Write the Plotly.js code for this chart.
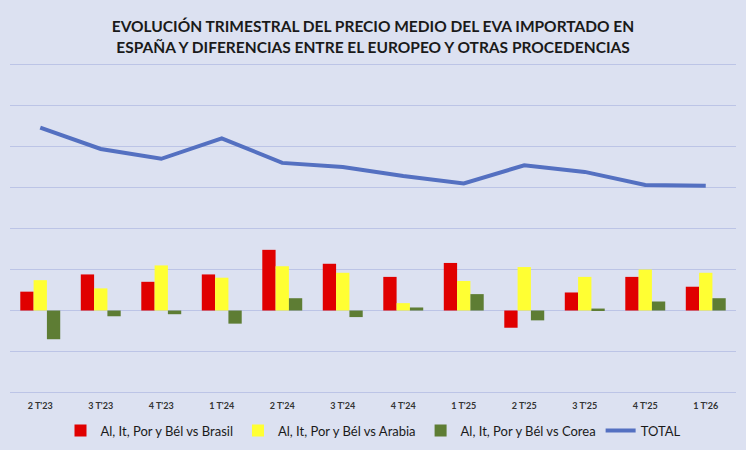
<!DOCTYPE html>
<html>
<head>
<meta charset="utf-8">
<script src="https://cdn.plot.ly/plotly-3.0.1.min.js"></script>
<style>
  html, body { margin: 0; padding: 0; background: #dce1f1; }
  #grafik { width: 746px; height: 450px; }
</style>
</head>
<body>
<div id="grafik"></div>
<script>
// Trimestres
const trimestres = ["2 T'23", "3 T'23", "4 T'23", "1 T'24", "2 T'24", "3 T'24",
                    "4 T'24", "1 T'25", "2 T'25", "3 T'25", "4 T'25", "1 T'26"];

// Diferencias de precio (€/kg, estimado de la imagen)
const vsBrasil = [0.23, 0.44, 0.35, 0.44, 0.74, 0.57, 0.41, 0.58, -0.21, 0.22, 0.41, 0.29];
const vsArabia = [0.37, 0.27, 0.55, 0.40, 0.54, 0.46, 0.09, 0.36, 0.53, 0.41, 0.50, 0.46];
const vsCorea  = [-0.35, -0.07, -0.045, -0.16, 0.15, -0.08, 0.037, 0.20, -0.12, 0.024, 0.11, 0.15];

// Precio medio total
const total = [2.23, 1.97, 1.85, 2.10, 1.80, 1.75, 1.64, 1.55, 1.77, 1.69, 1.53, 1.52];

const data = [
  { x: trimestres, y: vsBrasil, type: "bar", name: "Al, It, Por y Bél vs Brasil",
    marker: { color: "#e00000" } },
  { x: trimestres, y: vsArabia, type: "bar", name: "Al, It, Por y Bél vs Arabia",
    marker: { color: "#ffff33" } },
  { x: trimestres, y: vsCorea, type: "bar", name: "Al, It, Por y Bél vs Corea",
    marker: { color: "#5e7d34" } },
  { x: trimestres, y: total, type: "scatter", mode: "lines", name: "TOTAL",
    line: { color: "#5470c1", width: 4 } }
];

const layout = {
  width: 746,
  height: 450,
  paper_bgcolor: "#dce1f1",
  plot_bgcolor: "#dce1f1",
  margin: { l: 10, r: 10, t: 62, b: 55, autoexpand: false },
  font: { family: "Lato, sans-serif", color: "#1a1a1a" },
  title: {
    text: "EVOLUCIÓN TRIMESTRAL DEL PRECIO MEDIO DEL EVA IMPORTADO EN<br>ESPAÑA Y DIFERENCIAS ENTRE EL EUROPEO Y OTRAS PROCEDENCIAS",
    font: { family: "Lato, sans-serif", size: 15.5, weight: "bold", color: "#1a1a1a" },
    x: 0.5, xanchor: "center",
    yref: "container", y: 0.928, yanchor: "top"
  },
  barmode: "group",
  bargap: 0.34,
  bargroupgap: 0,
  xaxis: {
    type: "category",
    showgrid: false,
    showline: false,
    ticks: "",
    ticklabelstandoff: 4,
    tickfont: { size: 9, weight: "bold", color: "#333333" }
  },
  yaxis: {
    range: [-1.03, 3.03],
    tickvals: [-1, -0.5, 0, 0.5, 1, 1.5, 2, 2.5, 3],
    showticklabels: false,
    gridcolor: "#bcc4e6",
    gridwidth: 1,
    zeroline: true,
    zerolinecolor: "#bcc4e6",
    zerolinewidth: 1
  },
  showlegend: true,
  legend: {
    orientation: "h",
    x: 0.5, xanchor: "center",
    yref: "container", y: 0.043, yanchor: "middle",
    font: { size: 13, color: "#1a1a1a" },
    bgcolor: "rgba(0,0,0,0)"
  }
};

Plotly.newPlot("grafik", data, layout, { displayModeBar: false });
</script>
</body>
</html>
